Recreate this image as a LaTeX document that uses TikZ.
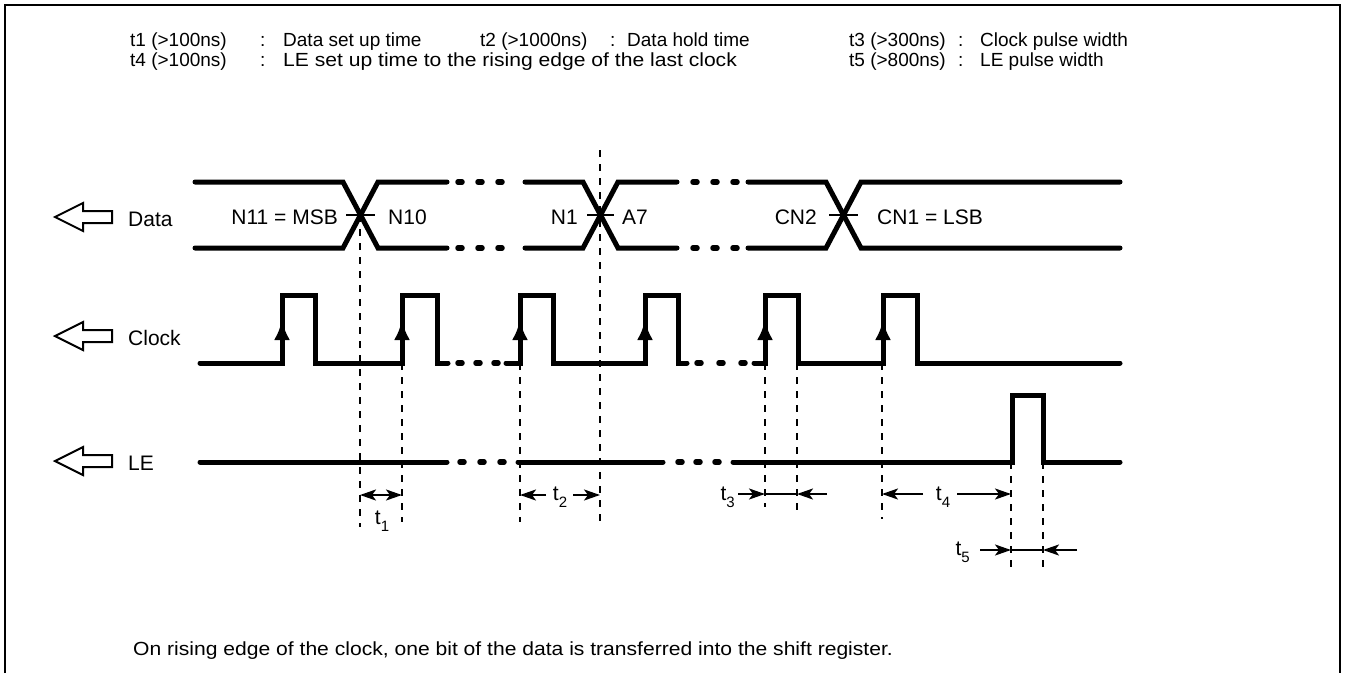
\documentclass[tikz,border=0pt]{standalone}
\usepackage{fontspec}
\setmainfont{Liberation Sans}
\usetikzlibrary{arrows.meta}
\newcommand\tlab[1]{t\raisebox{-0.35em}{\fontsize{15}{15}\selectfont #1}}
\newcommand\sigdots[2]{\foreach \q in {#1} {\draw[dotseg] (\q-2,#2) -- (\q+2,#2);}}
\begin{document}
\begin{tikzpicture}[x=1pt,y=-1pt,
 sig/.style={line width=5pt, line cap=round, line join=miter},
 dotseg/.style={line width=5.5pt, line cap=round},
 guide/.style={line width=2.2pt, dash pattern=on 7pt off 7pt},
 dim/.style={line width=2.2pt},
 dimarrow/.style={line width=2.2pt, -{Stealth[length=16pt,width=11pt,inset=4pt]}},
 dimboth/.style={line width=2.2pt, {Stealth[length=16pt,width=11pt,inset=4pt]}-{Stealth[length=16pt,width=11pt,inset=4pt]}},
 edgearrow/.style={line width=4pt, -{Latex[length=20pt,width=16pt]}},
 hdr/.style={inner sep=0pt, anchor=base west, font=\fontsize{19}{22}\selectfont},
 lbl/.style={inner sep=0pt, font=\fontsize{21}{24}\selectfont},
 hollow/.style={line width=2pt, line join=miter},
 tickmark/.style={line width=2.2pt},
 frame/.style={line width=2pt}]
\useasboundingbox (0,0) rectangle (1347,673);
% frame (open at bottom)
\draw[frame] (5,673) -- (5,5) -- (1340,5) -- (1340,673);

% header
\node[hdr] (h1a) at (130,46) {t1 (>100ns)};
\node[hdr] (h1b) at (260,46) {:};
\node[hdr] (h1c) at (283,46) {Data set up time};
\node[hdr] (h1d) at (480,46) {t2 (>1000ns)};
\node[hdr] (h1e) at (610,46) {:};
\node[hdr] (h1f) at (627,46) {Data hold time};
\node[hdr] (h1g) at (849,46) {t3 (>300ns)};
\node[hdr] (h1h) at (958,46) {:};
\node[hdr] (h1i) at (980,46) {Clock pulse width};
\node[hdr] (h2a) at (130,66) {t4 (>100ns)};
\node[hdr] (h2b) at (260,66) {:};
\node[hdr] (h2c) at (283,66) {\scalebox{1.11}[1]{LE set up time to the rising edge of the last clock}};
\node[hdr] (h2d) at (849,66) {t5 (>800ns)};
\node[hdr] (h2e) at (958,66) {:};
\node[hdr] (h2f) at (980,66) {LE pulse width};

% signal labels with hollow arrows
\foreach \yy/\nm/\txt in {217/data/Data, 336/clock/Clock, 461/le/LE}{
  \draw[hollow] (55,\yy) -- (83,\yy-14) -- (83,\yy-6) -- (112,\yy-6) -- (112,\yy+6) -- (83,\yy+6) -- (83,\yy+14) -- cycle;
  \node[lbl, anchor=west] (\nm) at (128,\yy+2) {\txt};
}

% ---- Data row
\draw[sig] (195,182) -- (343,182) -- (378,248) -- (447,248);
\draw[sig] (195,248) -- (343,248) -- (378,182) -- (447,182);
\sigdots{460,480,500}{182}
\sigdots{460,480,500}{248}
\draw[sig] (525,182) -- (583,182) -- (618,248) -- (677,248);
\draw[sig] (525,248) -- (583,248) -- (618,182) -- (677,182);
\sigdots{695,715,735}{182}
\sigdots{695,715,735}{248}
\draw[sig] (748,182) -- (826,182) -- (861,248) -- (1120,248);
\draw[sig] (748,248) -- (826,248) -- (861,182) -- (1120,182);
\draw[tickmark] (346,215) -- (375,215);
\draw[tickmark] (587,215) -- (614,215);
\draw[tickmark] (829,215) -- (858,215);
\node[lbl, anchor=east] (n11) at (338,217) {N11 = MSB};
\node[lbl, anchor=west] (n10) at (388,217) {N10};
\node[lbl, anchor=east] (n1) at (578,217) {N1};
\node[lbl, anchor=west] (a7) at (622,217) {A7};
\node[lbl, anchor=east] (cn2) at (817,217) {CN2};
\node[lbl, anchor=west] (cn1) at (877,217) {CN1 = LSB};

% ---- Clock row
\draw[sig] (200,363) -- (282,363) -- (282,295) -- (315,295) -- (315,363) -- (402,363) -- (402,295) -- (437,295) -- (437,363) -- (448,363);
\sigdots{460,478,496}{363}
\draw[sig] (506,363) -- (520,363) -- (520,295) -- (553,295) -- (553,363) -- (645,363) -- (645,295) -- (678,295) -- (678,363) -- (687,363);
\sigdots{699,721,743}{363}
\draw[sig] (754,363) -- (765,363) -- (765,295) -- (798,295) -- (798,363) -- (883,363) -- (883,295) -- (917,295) -- (917,363) -- (1120,363);
\foreach \xx in {282,402,520,645,765,883}{
  \draw[edgearrow] (\xx,346) -- (\xx,320);
}

% ---- LE row
\draw[sig] (200,462) -- (447,462);
\sigdots{462,482,502}{462}
\draw[sig] (518,462) -- (663,462);
\sigdots{680,698,717}{462}
\draw[sig] (733,462) -- (1012,462) -- (1012,395) -- (1043,395) -- (1043,462) -- (1120,462);

% ---- guide lines
\coordinate (g1t) at (360,215); \coordinate (g1b) at (360,527);
\coordinate (g2t) at (402,363); \coordinate (g2b) at (402,522);
\coordinate (g3t) at (520,363); \coordinate (g3b) at (520,522);
\coordinate (g4t) at (600,150); \coordinate (g4b) at (600,522);
\coordinate (g5t) at (765,363); \coordinate (g5b) at (765,507);
\coordinate (g6t) at (797,363); \coordinate (g6b) at (797,512);
\coordinate (g7t) at (882,363); \coordinate (g7b) at (882,519);
\coordinate (g8t) at (1011,462); \coordinate (g8b) at (1011,570);
\coordinate (g9t) at (1043,462); \coordinate (g9b) at (1043,570);
\foreach \g in {1,...,9}{ \draw[guide] (g\g t) -- (g\g b); }

% ---- timing annotations
\draw[dimboth] (360,495) -- (402,495);
\node[lbl] (t1) at (382,521) {\tlab{1}};

\node[lbl] (t2) at (560,497) {\tlab{2}};
\draw[dimarrow] (546,495) -- (520,495);
\draw[dimarrow] (573,495) -- (600,495);

\node[lbl, anchor=east] (t3) at (735,497) {\tlab{3}};
\draw[dimarrow] (738,494) -- (765,494);
\draw[dim] (765,494) -- (797,494);
\draw[dimarrow] (827,494) -- (797,494);

\node[lbl] (t4) at (943,497) {\tlab{4}};
\draw[dimarrow] (923,494) -- (882,494);
\draw[dimarrow] (957,494) -- (1011,494);

\node[lbl, anchor=east] (t5) at (970,552) {\tlab{5}};
\draw[dimarrow] (980,550) -- (1011,550);
\draw[dim] (1011,550) -- (1043,550);
\draw[dimarrow] (1077,550) -- (1043,550);

% ---- footnote
\node[hdr] (foot) at (133,655) {\scalebox{1.11}[1]{On rising edge of the clock, one bit of the data is transferred into the shift register.}};
\end{tikzpicture}
\end{document}
